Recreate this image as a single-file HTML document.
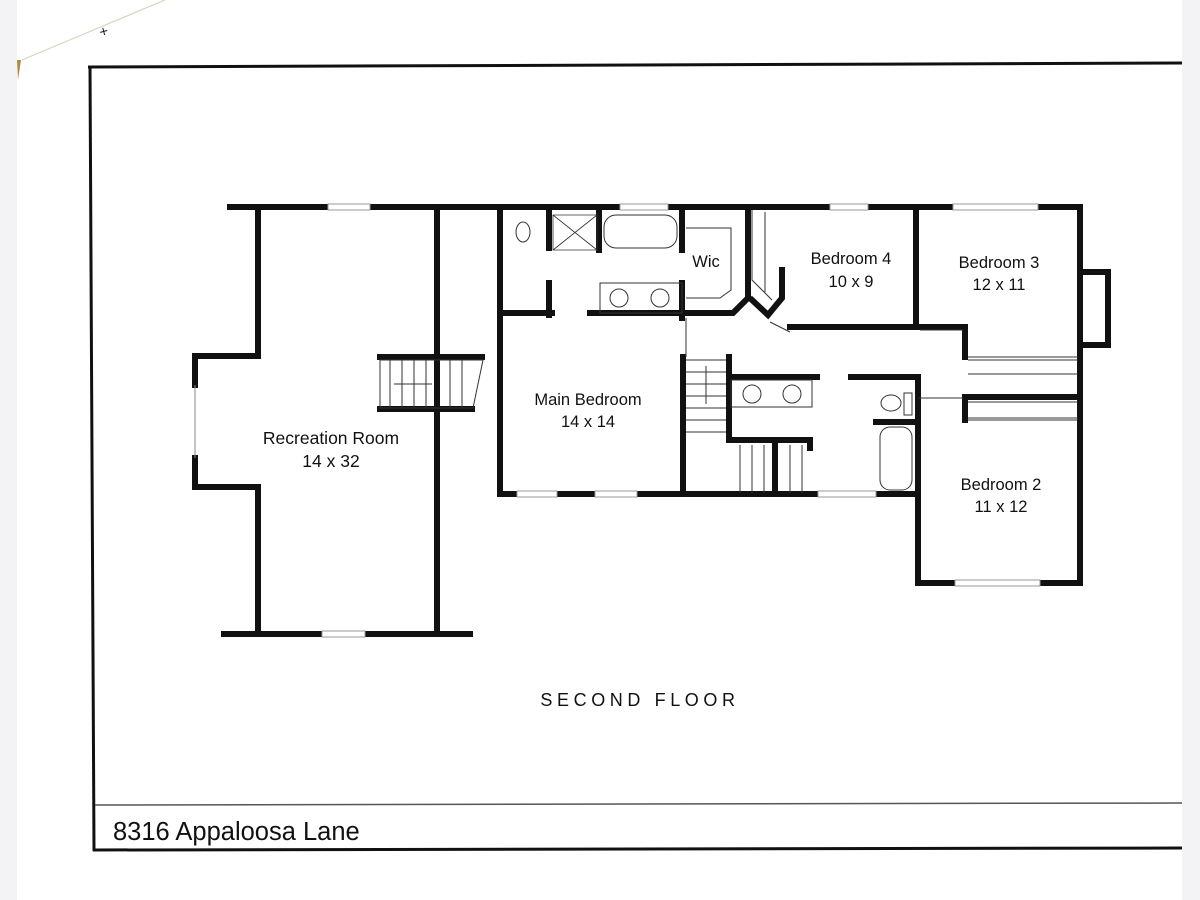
<!DOCTYPE html>
<html><head><meta charset="utf-8"><style>
html,body{margin:0;padding:0;background:#fff;}
body{width:1200px;height:900px;overflow:hidden;position:relative;}
svg{position:absolute;left:0;top:0;}
text{font-family:"Liberation Sans",Arial,sans-serif;fill:#111;}
</style></head><body>
<svg width="1200" height="900" viewBox="0 0 1200 900">
<rect x="0" y="0" width="17" height="900" fill="#f3f3f5"/>
<rect x="1182" y="0" width="18" height="900" fill="#f3f3f5"/>
<polygon points="17,60 21,60 18,80" fill="#b08a40"/>
<line x1="22" y1="60" x2="165" y2="0" stroke="#d8d2c0" stroke-width="1.2"/>
<text x="100" y="34" font-size="10" transform="rotate(30 102 30)">✕</text>
<g stroke="#111" fill="none">
<line x1="88" y1="67" x2="1182" y2="63" stroke-width="3"/>
<line x1="90" y1="66" x2="94" y2="851" stroke-width="3"/>
<line x1="93" y1="850" x2="1182" y2="848" stroke-width="3"/>
<line x1="95" y1="805" x2="1182" y2="803" stroke-width="1.5" stroke="#555"/>
</g>
<g stroke="#111" stroke-width="6" fill="none" stroke-linecap="square">
<line x1="230" y1="207" x2="328" y2="207"/><line x1="370" y1="207" x2="1080" y2="207"/>
<polyline points="258,207 258,356 195,356 195,385"/>
<polyline points="195,458 195,487 258,487 258,634"/>
<line x1="224" y1="634" x2="322" y2="634"/><line x1="365" y1="634" x2="470" y2="634"/>
<line x1="437" y1="210" x2="437" y2="632"/>
<line x1="380" y1="357" x2="482" y2="357"/><line x1="380" y1="409" x2="472" y2="409"/>
<line x1="500" y1="207" x2="500" y2="494"/>
<line x1="500" y1="494" x2="517" y2="494"/><line x1="557" y1="494" x2="595" y2="494"/><line x1="637" y1="494" x2="818" y2="494"/><line x1="876" y1="494" x2="918" y2="494"/>
<line x1="549" y1="207" x2="549" y2="248"/><line x1="549" y1="283" x2="549" y2="315"/>
<line x1="599" y1="207" x2="599" y2="250"/>
<line x1="682" y1="207" x2="682" y2="250"/><line x1="682" y1="283" x2="682" y2="318"/>
<line x1="500" y1="313" x2="552" y2="313"/>
<polyline points="590,313 733,313 748,298 748,210"/>
<polyline points="752,300 768,315 782,298 782,270"/>
<polyline points="790,327 918,327 963,327"/>
<line x1="916" y1="207" x2="916" y2="327"/>
<line x1="1080" y1="207" x2="1080" y2="583"/>
<polyline points="1080,272 1108,272 1108,345 1080,345"/>
<polyline points="965,327 965,357"/><line x1="965" y1="397" x2="965" y2="420"/>
<line x1="965" y1="397" x2="1078" y2="397"/>
<line x1="918" y1="377" x2="918" y2="583"/>
<line x1="918" y1="583" x2="955" y2="583"/><line x1="1040" y1="583" x2="1080" y2="583"/>
<line x1="683" y1="357" x2="683" y2="494"/>
<line x1="729" y1="357" x2="729" y2="440"/>
<line x1="729" y1="377" x2="817" y2="377"/><line x1="851" y1="377" x2="918" y2="377"/>
<line x1="876" y1="422" x2="918" y2="422"/>
<line x1="729" y1="440" x2="810" y2="440"/>
<line x1="775" y1="440" x2="775" y2="494"/>
<line x1="810" y1="440" x2="810" y2="448"/>
</g>
<g stroke="#333" stroke-width="1" fill="none">
<path d="M380 360h103l-10 48h-93z"/>
<path d="M390 360v48M402 360v48M414 360v48M426 360v48M450 360v48M462 360v48"/>
<line x1="394" y1="384" x2="432" y2="384"/>
<line x1="195" y1="385" x2="195" y2="458" stroke="#888"/>
<rect x="604" y="215" width="73" height="33" rx="12"/>
<path d="M553 215h44v35h-44z M553 215l44 35 M597 215l-44 35" stroke-width="0.8"/>
<ellipse cx="523" cy="232" rx="7" ry="10"/>
<rect x="600" y="283" width="82" height="30"/>
<circle cx="619" cy="298" r="9"/><circle cx="660" cy="298" r="9"/>
<polyline points="686,228 731,228 731,290 720,298 686,298"/>
<path d="M752 210v70l20 20M765 212v80"/>
<line x1="770" y1="322" x2="790" y2="332"/>
<line x1="686" y1="318" x2="686" y2="357"/>
<path d="M686 360h40M686 372h40M686 384h40M686 396h40M686 408h40M686 420h40M686 432h40"/>
<line x1="706" y1="366" x2="706" y2="404"/>
<path d="M740 445v48M752 445v48M764 445v48M790 445v48M802 445v48"/>
<rect x="731" y="380" width="81" height="27"/>
<circle cx="752" cy="394" r="9"/><circle cx="792" cy="394" r="9"/>
<ellipse cx="891" cy="403" rx="10" ry="8"/><rect x="904" y="393" width="8" height="22"/>
<rect x="880" y="427" width="32" height="63" rx="10"/>
<path d="M968 357h110M968 360h110M968 374h110M968 402h110M968 418h110M968 420h110"/>
<line x1="918" y1="398" x2="963" y2="398"/>
<line x1="920" y1="330" x2="963" y2="330"/>
</g>
<g fill="#fff" stroke="#999" stroke-width="1">
<rect x="328" y="204" width="42" height="6"/>
<rect x="620" y="204" width="48" height="6"/>
<rect x="830" y="204" width="38" height="6"/>
<rect x="953" y="204" width="85" height="6"/>
<rect x="322" y="631" width="43" height="6"/>
<rect x="517" y="491" width="40" height="6"/>
<rect x="595" y="491" width="42" height="6"/>
<rect x="818" y="491" width="58" height="6"/>
<rect x="955" y="580" width="85" height="6"/>
</g>
<text x="331" y="444" font-size="17.5" text-anchor="middle">Recreation Room</text>
<text x="331" y="467" font-size="17.5" text-anchor="middle">14 x 32</text>
<text x="588" y="405" font-size="16.5" text-anchor="middle">Main Bedroom</text>
<text x="588" y="427" font-size="16.5" text-anchor="middle">14 x 14</text>
<text x="706" y="267" font-size="16.5" text-anchor="middle">Wic</text>
<text x="851" y="264" font-size="16.5" text-anchor="middle">Bedroom 4</text>
<text x="851" y="287" font-size="16.5" text-anchor="middle">10 x 9</text>
<text x="999" y="268" font-size="16.5" text-anchor="middle">Bedroom 3</text>
<text x="999" y="290" font-size="16.5" text-anchor="middle">12 x 11</text>
<text x="1001" y="490" font-size="16.5" text-anchor="middle">Bedroom 2</text>
<text x="1001" y="512" font-size="16.5" text-anchor="middle">11 x 12</text>
<text x="640" y="706" font-size="18" text-anchor="middle" letter-spacing="4.6">SECOND FLOOR</text>
<text x="113" y="840" font-size="25.5">8316 Appaloosa Lane</text>
</svg>
</body></html>
